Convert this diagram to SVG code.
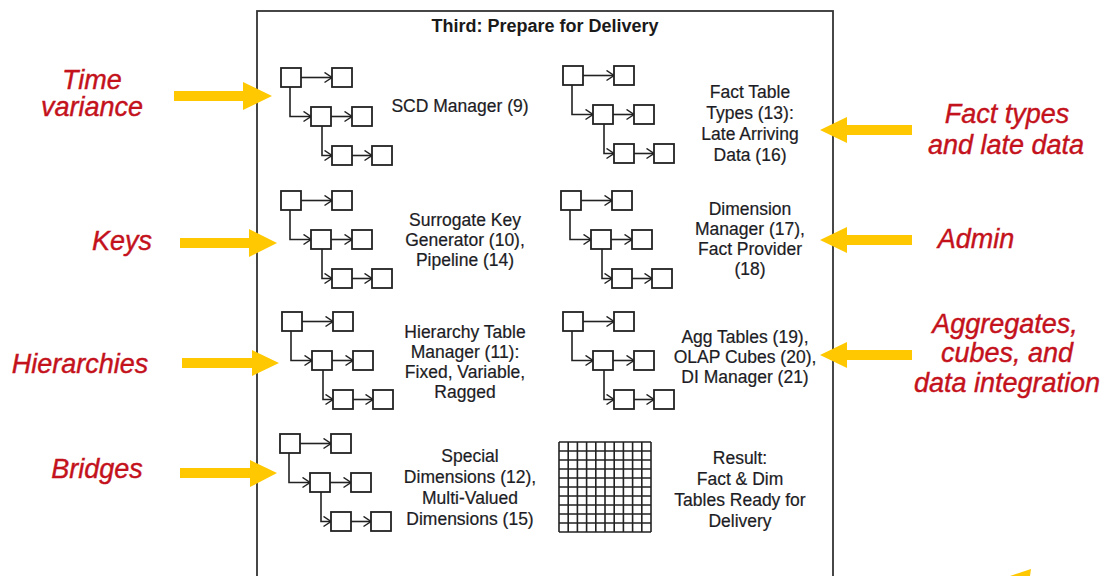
<svg xmlns="http://www.w3.org/2000/svg" width="1112" height="576" viewBox="0 0 1112 576">
<style>
.bg{fill:#ffffff}
.frame{fill:none;stroke:#333;stroke-width:1.8}
.title{font-family:"Liberation Sans",Arial,sans-serif;font-weight:bold;font-size:18px;fill:#1a1a1a;text-anchor:middle}
.lbl{font-family:"Liberation Sans",Arial,sans-serif;font-size:17.5px;fill:#1c1c24;text-anchor:middle;stroke:#1c1c24;stroke-width:0.2}
.red{font-family:"Liberation Sans",Arial,sans-serif;font-style:italic;font-size:27px;fill:#c4121c;text-anchor:middle;stroke:#c4121c;stroke-width:0.4}
.box{fill:#fff;stroke:#222;stroke-width:1.8}
.ln{fill:none;stroke:#222;stroke-width:1.6}
.ya{fill:#ffc800}
.grid{fill:none;stroke:#222;stroke-width:1.6}
</style>
<defs>
<marker id="ch" viewBox="0 0 9 12" refX="8.5" refY="6" markerWidth="9" markerHeight="12" markerUnits="userSpaceOnUse" orient="auto">
<path d="M1,1 L8.5,6 L1,11" fill="none" stroke="#222" stroke-width="1.5"/>
</marker>
<g id="tree">
<path class="ln" d="M20,9.5 H51" marker-end="url(#ch)"/>
<path class="ln" d="M9,19 V48.5 H30" marker-end="url(#ch)"/>
<path class="ln" d="M50,48.5 H71" marker-end="url(#ch)"/>
<path class="ln" d="M41,58 V87.5 H51" marker-end="url(#ch)"/>
<path class="ln" d="M71,87.5 H91" marker-end="url(#ch)"/>
<rect class="box" x="0" y="0" width="20" height="19"/>
<rect class="box" x="51" y="0" width="20" height="19"/>
<rect class="box" x="30" y="39" width="20" height="19"/>
<rect class="box" x="71" y="39" width="20" height="19"/>
<rect class="box" x="51" y="78" width="20" height="19"/>
<rect class="box" x="91" y="78" width="20" height="19"/>
</g>
</defs>
<rect class="bg" x="0" y="0" width="1112" height="576"/>
<rect class="frame" x="257" y="11" width="576" height="600"/>
<text class="title" x="545" y="32">Third: Prepare for Delivery</text>

<g id="scd-manager">
<use href="#tree" x="281" y="68"/>
<text class="lbl" x="460" y="112">SCD Manager (9)</text>
</g>
<g id="fact-table-types">
<use href="#tree" x="563" y="66"/>
<text class="lbl" x="750" y="98">Fact Table</text>
<text class="lbl" x="750" y="119">Types (13):</text>
<text class="lbl" x="750" y="140">Late Arriving</text>
<text class="lbl" x="750" y="161">Data (16)</text>
</g>
<g id="surrogate-key">
<use href="#tree" x="281" y="191"/>
<text class="lbl" x="465" y="226">Surrogate Key</text>
<text class="lbl" x="465" y="246">Generator (10),</text>
<text class="lbl" x="465" y="266">Pipeline (14)</text>
</g>
<g id="dimension-manager">
<use href="#tree" x="561" y="191"/>
<text class="lbl" x="750" y="215">Dimension</text>
<text class="lbl" x="750" y="235">Manager (17),</text>
<text class="lbl" x="750" y="255">Fact Provider</text>
<text class="lbl" x="750" y="275">(18)</text>
</g>
<g id="hierarchy-table">
<use href="#tree" x="282" y="312"/>
<text class="lbl" x="465" y="338">Hierarchy Table</text>
<text class="lbl" x="465" y="358">Manager (11):</text>
<text class="lbl" x="465" y="378">Fixed, Variable,</text>
<text class="lbl" x="465" y="398">Ragged</text>
</g>
<g id="agg-tables">
<use href="#tree" x="563" y="312"/>
<text class="lbl" x="745" y="343">Agg Tables (19),</text>
<text class="lbl" x="745" y="363">OLAP Cubes (20),</text>
<text class="lbl" x="745" y="383">DI Manager (21)</text>
</g>
<g id="special-dimensions">
<use href="#tree" x="280" y="434"/>
<text class="lbl" x="470" y="462">Special</text>
<text class="lbl" x="470" y="483">Dimensions (12),</text>
<text class="lbl" x="470" y="504">Multi-Valued</text>
<text class="lbl" x="470" y="525">Dimensions (15)</text>
</g>
<g id="result">
<path class="grid" d="M559,442 H651 M559,451 H651 M559,460 H651 M559,469 H651 M559,478 H651 M559,487 H651 M559,496 H651 M559,505 H651 M559,514 H651 M559,523 H651 M559,532 H651 M559,442 V532 M568.2,442 V532 M577.4,442 V532 M586.6,442 V532 M595.8,442 V532 M605,442 V532 M614.2,442 V532 M623.4,442 V532 M632.6,442 V532 M641.8,442 V532 M651,442 V532"/>
<text class="lbl" x="740" y="464">Result:</text>
<text class="lbl" x="740" y="485">Fact &amp; Dim</text>
<text class="lbl" x="740" y="506">Tables Ready for</text>
<text class="lbl" x="740" y="527">Delivery</text>
</g>

<g id="label-time-variance">
<text class="red" x="92" y="89">Time</text>
<text class="red" x="92" y="116">variance</text>
</g>
<g id="label-keys"><text class="red" x="122" y="250">Keys</text></g>
<g id="label-hierarchies"><text class="red" x="80" y="373">Hierarchies</text></g>
<g id="label-bridges"><text class="red" x="97" y="478">Bridges</text></g>
<g id="label-fact-types">
<text class="red" x="1007" y="123">Fact types</text>
<text class="red" x="1006" y="154">and late data</text>
</g>
<g id="label-admin"><text class="red" x="976" y="248">Admin</text></g>
<g id="label-aggregates">
<text class="red" x="1005" y="333">Aggregates,</text>
<text class="red" x="1007" y="362">cubes, and</text>
<text class="red" x="1007" y="392">data integration</text>
</g>

<g id="connectors">
<polygon class="ya" points="174,91 243,91 243,82 272,96 243,110 243,101 174,101"/>
<polygon class="ya" points="180,238 249,238 249,229 277,243 249,257 249,248 180,248"/>
<polygon class="ya" points="182,358 252,358 252,350 279,363 252,376 252,368 182,368"/>
<polygon class="ya" points="180,468 250,468 250,460 277,473 250,487 250,478 180,478"/>
<polygon class="ya" points="912,125 847,125 847,117 820,130 847,143 847,135 912,135"/>
<polygon class="ya" points="912,235 847,235 847,227 820,240 847,253 847,245 912,245"/>
<polygon class="ya" points="912,350 847,350 847,342 820,355 847,368 847,360 912,360"/>
<polygon class="ya" points="1010,576 1031,569 1030,576"/>
</g>
</svg>
